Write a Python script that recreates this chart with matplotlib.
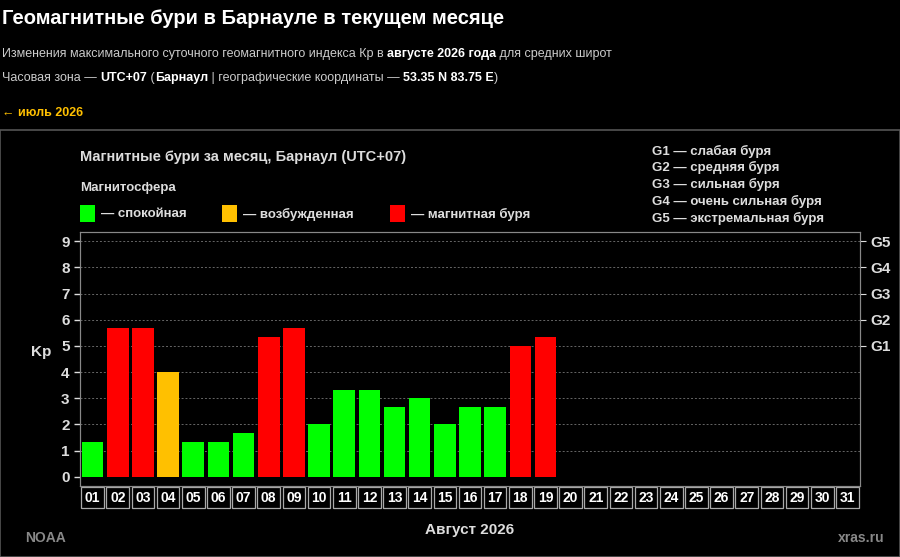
import matplotlib.pyplot as plt
from matplotlib.patches import Rectangle

days = [f"{d:02d}" for d in range(1, 32)]
kp = [1.33, 5.67, 5.67, 4.0, 1.33, 1.33, 1.67, 5.33, 5.67, 2.0, 3.33, 3.33, 2.67,
      3.0, 2.0, 2.67, 2.67, 5.0, 5.33]
g_labels = ["G1", "G2", "G3", "G4", "G5"]
g_levels = [5, 6, 7, 8, 9]
g_desc = ["G1 — слабая буря", "G2 — средняя буря", "G3 — сильная буря",
          "G4 — очень сильная буря", "G5 — экстремальная буря"]
GREEN, ORANGE, RED = "#00ff00", "#ffc000", "#ff0000"


def color(v):
    if v >= 5:
        return RED
    if v >= 4:
        return ORANGE
    return GREEN


plt.rcParams['font.family'] = ['Liberation Sans', 'DejaVu Sans']
fig = plt.figure(figsize=(9, 5.57), dpi=100, facecolor="black")
W, H = 900, 557
renderer = fig.canvas.get_renderer()


def fx(x):
    return x / W


def fy(y):
    return 1 - y / H


def chain(x, y, parts):
    # draw text pieces one after another on a line
    for t, bold in parts:
        txt = fig.text(fx(x), fy(y), t, color="white" if bold else "#cccccc", fontsize=9,
                       fontweight="bold" if bold else "normal", va="center")
        x = txt.get_window_extent(renderer).x1


fig.text(fx(2), fy(19), "Геомагнитные бури в Барнауле в текущем месяце", color="white",
         fontsize=14.5, fontweight="bold", va="center")
chain(2, 54, [("Изменения максимального суточного геомагнитного индекса Кр в ", False),
              ("августе 2026 года", True), (" для средних широт", False)])
chain(2, 78, [("Часовая зона — ", False), ("UTC+07", True), (" (", False), ("Барнаул", True),
              (" | географические координаты — ", False), ("53.35 N 83.75 E", True), (")", False)])
fig.text(fx(2), fy(113), "← июль 2026", color="#ffc000", fontsize=9, fontweight="bold", va="center")

fig.patches.append(Rectangle((fx(0), fy(557)), 1, fy(130) - fy(557), transform=fig.transFigure,
                             facecolor="none", edgecolor="#555555", lw=1.2, zorder=-1))

fig.text(fx(80), fy(157), "Магнитные бури за месяц, Барнаул (UTC+07)", color="#dddddd",
         fontsize=10.5, fontweight="bold", va="center")
fig.text(fx(80), fy(188), "Магнитосфера", color="#dddddd", fontsize=9.5, fontweight="bold", va="center")
for x0, c, t in [(80, GREEN, "— спокойная"), (222, ORANGE, "— возбужденная"), (390, RED, "— магнитная буря")]:
    fig.patches.append(Rectangle((fx(x0), fy(222)), fx(15), fy(205) - fy(222), transform=fig.transFigure,
                                 facecolor=c, edgecolor="none"))
    fig.text(fx(x0 + 21), fy(214), t, color="#dddddd", fontsize=9.5, fontweight="bold", va="center")
for i, t in enumerate(g_desc):
    fig.text(fx(652), fy(151 + i * 16.8), t, color="#dddddd", fontsize=9.5, fontweight="bold", va="center")

ax = fig.add_axes([fx(80), fy(486), fx(860) - fx(80), fy(232) - fy(486)], facecolor="black")
x = list(range(1, len(kp) + 1))
ax.bar(x, kp, width=0.86, color=[color(v) for v in kp], zorder=3)
ax.set_xlim(0.5, 31.5)
ax.set_ylim(-0.35, 9.35)
for y in range(1, 10):
    ax.axhline(y, color="#666666", ls=(0, (2, 2)), lw=0.7, zorder=1)
ax.set_yticks(range(10))
ax.tick_params(axis="y", colors="#dddddd", labelsize=11, length=4, width=1)
for lab in ax.get_yticklabels():
    lab.set_fontweight("bold")
ax.set_xticks([])
ax.set_ylabel("Kp", color="#dddddd", fontsize=11, fontweight="bold", rotation=0, labelpad=14)
for s in ax.spines.values():
    s.set_color("#888888")

ax2 = ax.twinx()
ax2.set_ylim(ax.get_ylim())
ax2.set_yticks(g_levels)
ax2.set_yticklabels(g_labels, color="#dddddd", fontsize=11, fontweight="bold")
ax2.tick_params(axis="y", colors="#dddddd", length=4)
for s in ax2.spines.values():
    s.set_color("#888888")

for i, d in enumerate(days):
    ax.add_patch(Rectangle((i + 0.55, -1.2), 0.9, 0.8, transform=ax.transData, clip_on=False,
                           facecolor="black", edgecolor="#aaaaaa", lw=0.9))
    ax.text(i + 1, -0.8, d, color="white", fontsize=10, fontweight="bold", ha="center", va="center",
            clip_on=False)

fig.text(fx(470), fy(530), "Август 2026", color="#dddddd", fontsize=11, fontweight="bold",
         ha="center", va="center")
fig.text(fx(25), fy(538), "NOAA", color="#888888", fontsize=10, fontweight="bold", va="center")
fig.text(fx(885), fy(538), "xras.ru", color="#888888", fontsize=10, fontweight="bold", ha="right", va="center")

fig.savefig("out.png", dpi=100, facecolor="black")
